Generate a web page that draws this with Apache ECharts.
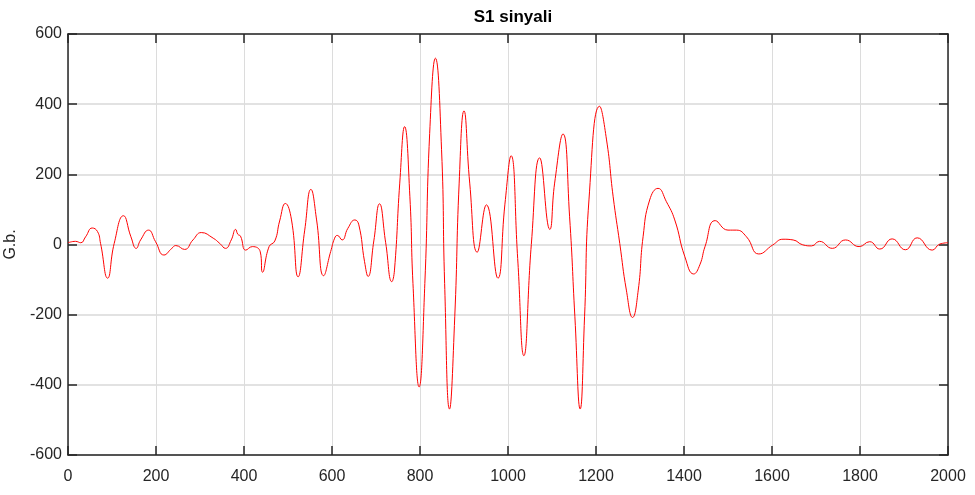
<!DOCTYPE html>
<html><head><meta charset="utf-8">
<script src="https://cdn.jsdelivr.net/npm/echarts@6/dist/echarts.min.js"></script>
<style>html,body{margin:0;padding:0;background:#fff}#c{width:975px;height:495px}</style>
</head><body><div id="c"></div>
<script>
var titleText = 'S1 sinyali';
var yName = 'G.b.';
var xTicks = [0,200,400,600,800,1000,1200,1400,1600,1800,2000];
var yTicks = [-600,-400,-200,0,200,400,600];
var sampleX = [0,17,29,40,55,67,74,90,105,126,143,155,165,183,199,218,236,245,265,284,303,330,345,358,371,381,386,392,404,419,437,442,457,470,481,494,508,523,538,552,565,581,597,606,612,623,636,652,661,674,682,695,708,722,736,742,754,765,777,784,798,811,822,835,849,856,867,879,889,900,913,930,951,977,993,1007,1022,1036,1053,1072,1095,1106,1125,1140,1152,1164,1174,1184,1208,1224,1239,1254,1269,1283,1296,1307,1322,1341,1360,1379,1402,1422,1436,1448,1471,1500,1519,1542,1570,1602,1625,1648,1670,1690,1708,1737,1767,1798,1822,1845,1873,1903,1930,1964,1981,2000];
var sampleY = [5,9,5,22,47,37,3,-96,3,82,22,-11,13,41,8,-30,-11,-3,-14,13,34,18,3,-11,13,43,29,24,-16,-6,-21,-79,-6,10,67,117,70,-92,41,157,70,-89,-20,18,26,13,46,70,56,-49,-91,10,116,5,-106,-73,175,336,136,-111,-406,-111,317,531,270,-111,-469,-206,175,381,175,-22,113,-96,115,253,-40,-317,0,247,43,175,315,79,-206,-469,-206,127,394,298,136,3,-130,-208,-130,22,127,160,122,70,-35,-84,-58,-5,68,41,41,22,-27,-1,15,13,-1,-4,9,-11,13,-6,8,-13,16,-15,19,-16,1,5];

var data = sampleX.map(function(x,i){return [x, sampleY[i]];});
var font = '"Liberation Sans Narrow","Arial Narrow","Liberation Sans",Arial,sans-serif';
var chart = echarts.init(document.getElementById('c'));
function tickFmt(v){return String(v);}
chart.setOption({
  animation:false,
  title:{text:titleText,left:508,top:4,textAlign:'center',textStyle:{fontFamily:font,fontSize:17,fontWeight:'bold',color:'#000'}},
  grid:{left:68,right:27,top:34,bottom:40,containLabel:false,outerBoundsMode:'none'},
  xAxis:[{type:'value',min:0,max:2000,interval:200,position:'bottom',
    axisLine:{show:true,onZero:false,lineStyle:{color:'#262626',width:1.5}},
    axisTick:{show:true,inside:true,length:9,lineStyle:{color:'#262626',width:1.5}},
    axisLabel:{fontFamily:font,fontSize:16,color:'#262626',margin:14,formatter:tickFmt},
    splitLine:{show:true,lineStyle:{color:'#dcdcdc',width:1}}},
   {type:'value',min:0,max:2000,interval:200,position:'top',
    axisLine:{show:true,onZero:false,lineStyle:{color:'#262626',width:1.5}},
    axisTick:{show:true,inside:true,length:9,lineStyle:{color:'#262626',width:1.5}},
    axisLabel:{show:false},splitLine:{show:false}}],
  yAxis:[{type:'value',min:-600,max:600,interval:200,position:'left',
    name:yName,nameLocation:'middle',nameGap:45,nameRotate:90,
    nameTextStyle:{fontFamily:'"Liberation Sans",Arial,sans-serif',fontSize:16,color:'#262626'},
    axisLine:{show:true,onZero:false,lineStyle:{color:'#262626',width:1.5}},
    axisTick:{show:true,inside:true,length:9,lineStyle:{color:'#262626',width:1.5}},
    axisLabel:{fontFamily:font,fontSize:16,color:'#262626',margin:6,formatter:tickFmt},
    splitLine:{show:true,lineStyle:{color:'#d9d9d9',width:1.5}}},
   {type:'value',min:-600,max:600,interval:200,position:'right',
    axisLine:{show:true,onZero:false,lineStyle:{color:'#262626',width:1.5}},
    axisTick:{show:true,inside:true,length:9,lineStyle:{color:'#262626',width:1.5}},
    axisLabel:{show:false},splitLine:{show:false}}],
  series:[{type:'line',data:data,xAxisIndex:0,yAxisIndex:0,smooth:0.5,showSymbol:false,
    lineStyle:{color:'#ff0000',width:1},z:5}]
});
</script></body></html>
